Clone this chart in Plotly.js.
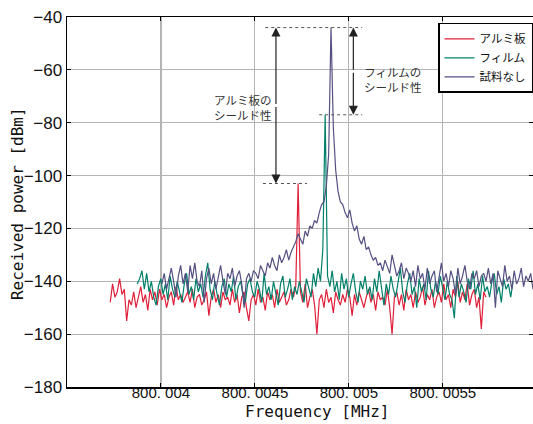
<!DOCTYPE html>
<html>
<head>
<meta charset="utf-8">
<script src="https://cdn.plot.ly/plotly-3.0.1.min.js"></script>
<style>html,body{margin:0;padding:0;background:#fff;}#chart{width:533px;height:424px;}</style>
</head>
<body>
<div id="chart"></div>
<script>
// Sweep grid (MHz): each trace is a 161-point sweep with fixed step
const sweepStep = 0.0000125;
const startAl = 800.00373;
const startFilm = 800.003874;
const startNone = 800.004005;

const seriesNames = ["アルミ板", "フィルム", "試料なし"];

// Received power [dBm]
const powerAl = [
  -148,-141,-146,-144,-139,-145,-143,-155,-147,-149,
  -144,-150,-146,-142,-148,-145,-151,-143,-147,-144,
  -149,-143,-147,-145,-150,-146,-144,-149,-142,-147,
  -145,-148,-146,-144,-148,-143,-150,-146,-145,-149,
  -147,-144,-153,-146,-143,-148,-145,-150,-144,-147,
  -146,-149,-143,-148,-145,-152,-146,-144,-150,-155,
  -147,-145,-149,-143,-148,-146,-151,-144,-147,-145,
  -150,-143,-148,-146,-144,-149,-147,-143,-146,-142,
  -103,
  -144,-148,-141,-150,-146,-143,-149,-160,-147,
  -145,-150,-143,-148,-146,-152,-144,-147,-149,-145,
  -148,-143,-146,-153,-145,-149,-144,-147,-150,-146,
  -143,-148,-145,-151,-144,-147,-146,-149,-143,-150,
  -160,
  -146,-144,-149,-145,-151,-143,-147,-145,-150,
  -144,-148,-146,-142,-149,-145,-147,-143,-150,-146,
  -144,-148,-141,-147,-145,-150,-143,-146,-140,-148,
  -144,-147,-141,-149,-145,-143,-150,-146,-158,-144,-146
];

const powerFilm = [
  -141,-139,-136,-143,-137,-144,-140,-146,-149,-142,
  -139,-145,-141,-147,-138,-143,-146,-140,-144,-148,
  -141,-137,-145,-142,-147,-139,-144,-141,-146,-138,
  -133,-143,-147,-140,-145,-149,-142,-139,-146,-141,
  -144,-138,-147,-142,-140,-145,-148,-141,-139,-144,
  -146,-140,-143,-148,-137,-145,-142,-147,-140,-144,
  -149,-141,-138,-146,-143,-139,-147,-142,-145,-140,
  -144,-148,-139,-143,-146,-137,-142,-135,-140,-128,
  -77,
  -138,-142,-136,-144,-140,-147,-137,-143,-139,
  -146,-141,-137,-144,-148,-140,-143,-138,-145,-142,
  -147,-139,-144,-136,-142,-149,-141,-145,-138,-143,
  -146,-140,-135,-144,-148,-141,-137,-145,-142,-150,
  -139,-144,-141,-147,-136,-143,-146,-140,-145,-138,
  -143,-147,-140,-145,-147,-154,-138,-146,-141,-144,
  -148,-139,-143,-136,-145,-141,-147,-138,-144,-142,
  -146,-140,-137,-145,-142,-148,-139,-143,-141,-146,-140
];

const powerNone = [
  -141,-137,-143,-139,-135,-140,-146,-138,-134,-141,
  -137,-144,-134,-139,-133,-140,-142,-136,-148,-139,
  -135,-141,-137,-143,-138,-134,-140,-145,-137,-139,
  -135,-142,-138,-136,-141,-150,-139,-137,-140,
  -136,-137,-139,-134,-136,-138,-133,-135,-131,-134,-136,
  -130,-133,-131,-128,-132,-129,
  -127,-125,-122,-124,-126,-121,-123,-119,-120,-117,-118,
  -114,-111,-110,-104,-92,
  -44,
  -82,-98,-106,-110,-111,
  -114,-116,-113,-118,-121,-119,-124,-126,-123,-128,-127,-130,-132,
  -131,-134,-133,-136,-132,-135,-137,-130,-134,-138,-136,-133,-139,-135,-137,
  -140,-136,-142,-134,-139,-137,-143,-135,-141,-138,
  -136,-144,-139,-133,-140,-137,-142,-136,-139,-145,
  -135,-141,-138,-134,-140,-143,-137,-139,-136,-142,
  -138,-137,-140,-135,-141,-137,-150,-136,-139,-142,
  -134,-140,-138,-143,-136,-141,-139,-135,-142,-138,
  -140,-137,-143,-139,-141
];

const xTickVals = [800.004, 800.0045, 800.005, 800.0055];
const xTickText = ["800. 004", "800. 0045", "800. 005", "800. 0055"];

function sweep(start, n) {
  const f = [];
  for (let i = 0; i < n; i++) f.push(+(start + i * sweepStep).toFixed(9));
  return f;
}

const colors = ["#e0203a", "#00806a", "#555082"];

const traces = [
  {x: sweep(startAl, powerAl.length), y: powerAl, name: seriesNames[0]},
  {x: sweep(startFilm, powerFilm.length), y: powerFilm, name: seriesNames[1]},
  {x: sweep(startNone, powerNone.length), y: powerNone, name: seriesNames[2]}
].map((t, k) => Object.assign(t, {type: "scatter", mode: "lines", line: {color: colors[k], width: 1.2}}));

const peakAl = Math.max(...powerAl);
const peakFilm = Math.max(...powerFilm);
const peakNone = Math.max(...powerNone);

const dotted = {color: "#555", width: 1, dash: "dot"};
const shapes = [
  {type: "line", xref: "x", yref: "y", x0: 800.004555, x1: 800.005071, y0: peakNone, y1: peakNone, line: dotted},
  {type: "line", xref: "x", yref: "y", x0: 800.004842, x1: 800.005071, y0: peakFilm, y1: peakFilm, line: dotted},
  {type: "line", xref: "x", yref: "y", x0: 800.004543, x1: 800.004777, y0: peakAl, y1: peakAl, line: dotted}
];

const arrowX1 = 800.004612, arrowX2 = 800.005024;
function arrow(x, tip, tail) {
  return {x: x, y: tip, ax: x, ay: tail, xref: "x", yref: "y", axref: "x", ayref: "y",
          text: "", showarrow: true, arrowhead: 2, arrowsize: 1.5, arrowwidth: 1.2, arrowcolor: "#222", standoff: 0, startstandoff: 0};
}
const annFont = {family: "Noto Sans CJK JP", size: 11.5, color: "#333"};
const annotations = [
  arrow(arrowX1, peakNone, (peakNone + peakAl) / 2),
  arrow(arrowX1, peakAl, (peakNone + peakAl) / 2),
  arrow(arrowX2, peakNone, (peakNone + peakFilm) / 2),
  arrow(arrowX2, peakFilm, (peakNone + peakFilm) / 2),
  {x: 800.004438, y: -74.4, xref: "x", yref: "y", text: "アルミ板の<br>シールド性", showarrow: false, font: annFont, xanchor: "center", yanchor: "middle"},
  {x: 800.005236, y: -63.5, xref: "x", yref: "y", text: "フィルムの<br>シールド性", showarrow: false, font: annFont, xanchor: "center", yanchor: "middle"},
  {x: 0.5386, y: -0.067, xref: "paper", yref: "paper", text: "Frequency [MHz]", showarrow: false,
   font: {family: "DejaVu Sans Mono", size: 16, color: "#111"}, xanchor: "center", yanchor: "middle"},
  {x: -0.105, y: 0.4946, xref: "paper", yref: "paper", text: "Received power [dBm]", showarrow: false, textangle: -90,
   font: {family: "DejaVu Sans Mono", size: 16, color: "#111"}, xanchor: "center", yanchor: "middle"}
];

const layout = {
  width: 533, height: 424,
  margin: {l: 67, r: 0, t: 17, b: 37},
  paper_bgcolor: "#fff", plot_bgcolor: "#fff",
  showlegend: true,
  legend: {x: 1.0, y: 0.984, xanchor: "right", yanchor: "top", bgcolor: "#fff", bordercolor: "#000", borderwidth: 1.5,
           font: {family: "Noto Sans CJK JP", size: 11.5, color: "#111"}, tracegroupgap: 0, itemwidth: 30},
  xaxis: {range: [800.0035, 800.00598], tickmode: "array", tickvals: xTickVals, ticktext: xTickText,
          showgrid: true, gridcolor: "#b4b4b4", gridwidth: 1.2, zeroline: false,
          showline: true, linecolor: "#000", linewidth: 1.5, mirror: "ticks",
          ticks: "inside", ticklen: 4, tickcolor: "#000", ticklabelstandoff: -9,
          tickfont: {family: "Liberation Sans", size: 15, color: "#111"}},
  yaxis: {range: [-180, -40], dtick: 20, tick0: -180,
          showgrid: true, gridcolor: "#b4b4b4", gridwidth: 1.2, zeroline: false,
          showline: true, linecolor: "#000", linewidth: 1.5, mirror: "ticks",
          ticks: "inside", ticklen: 4, tickcolor: "#000",
          tickfont: {family: "Liberation Sans", size: 17, color: "#111"}},
  shapes: shapes,
  annotations: annotations
};

Plotly.newPlot("chart", traces, layout, {staticPlot: true, displayModeBar: false});
</script>
</body>
</html>
